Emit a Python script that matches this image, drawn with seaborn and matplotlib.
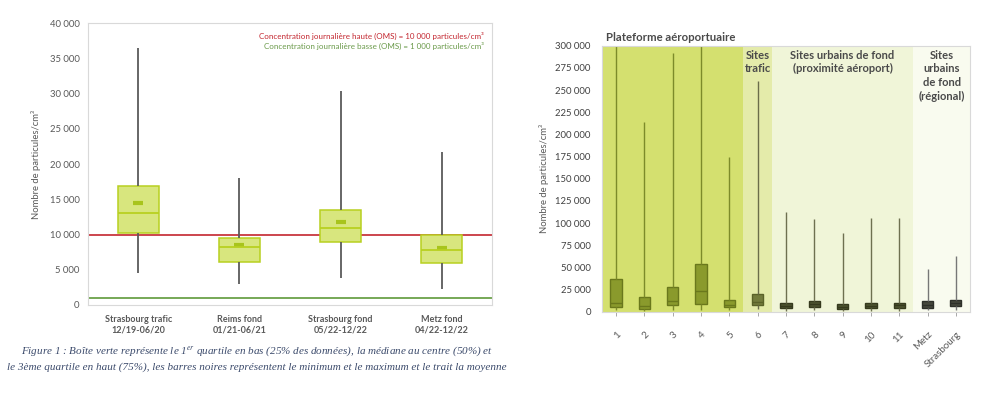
import numpy as np
import pandas as pd
import matplotlib
matplotlib.use("Agg")
import matplotlib.pyplot as plt
import seaborn as sns
from matplotlib.ticker import FuncFormatter, MultipleLocator

# ---------------- Left chart data ----------------
left_cats = ["Strasbourg trafic\n12/19-06/20", "Reims fond\n01/21-06/21",
             "Strasbourg fond\n05/22-12/22", "Metz fond\n04/22-12/22"]
left_min = [4500, 3000, 3900, 2300]
left_q1 = [10250, 6150, 9000, 5900]
left_med = [13050, 8250, 10950, 7800]
left_q3 = [16950, 9550, 13500, 9900]
left_max = [36400, 18000, 30300, 21700]
left_mean = [14450, 8450, 11800, 8150]
seuil_haut = 10000
seuil_bas = 1000
legend_haut = "Concentration journalière haute (OMS) = 10 000 particules/cm³"
legend_bas = "Concentration journalière basse (OMS) = 1 000 particules/cm³"

# ---------------- Right chart data ----------------
right_cats = ["1", "2", "3", "4", "5", "6", "7", "8", "9", "10", "11", "Metz", "Strasbourg"]
right_groups = (["Plateforme aéroportuaire"] * 5 + ["Sites\ntrafic"]
                + ["Sites urbains de fond\n(proximité aéroport)"] * 5
                + ["Sites\nurbains\nde fond\n(régional)"] * 2)
right_min = [1500, 1000, 2000, 1500, 1500, 2500, 1000, 1500, 800, 1000, 1000, 1500, 2000]
right_q1 = [5000, 3400, 7500, 8300, 5000, 7500, 4200, 5300, 2700, 3800, 4200, 4200, 6400]
right_med = [9500, 6400, 12000, 23300, 7500, 11300, 6800, 8300, 5600, 6800, 7200, 7900, 9500]
right_q3 = [37000, 16600, 27500, 53800, 12800, 20000, 10200, 11700, 8300, 10200, 10200, 11700, 12800]
right_max = [320000, 213500, 291700, 320000, 174800, 260000, 112700, 104200, 88700,
             105300, 106000, 48500, 62800]

caption = ("Figure 1 : Boîte verte représente le 1$^{er}$ quartile en bas (25% des données), "
           "la médiane au centre (50%) et\nle 3ème quartile en haut (75%), les barres noires "
           "représentent le minimum et le maximum et le trait la moyenne")

# ---------------- Styling ----------------
sns.set_theme(style="white")
plt.rcParams["font.family"] = ["Lato", "DejaVu Sans"]
plt.rcParams["mathtext.fontset"] = "stix"
txt_gray = "#595959"
thousands = FuncFormatter(lambda v, p: f"{int(round(v)):,}".replace(",", " "))


def long_df(cats, mins, q1s, meds, q3s, maxs, groups=None):
    rows = []
    for i, c in enumerate(cats):
        for v in (mins[i], q1s[i], meds[i], q3s[i], maxs[i]):
            rows.append({"cat": c, "val": v, "group": groups[i] if groups else ""})
    return pd.DataFrame(rows)


fig = plt.figure(figsize=(9.93, 3.96), dpi=100)
fig.patch.set_facecolor("white")

# ================= LEFT =================
axL = fig.add_axes([0.0886, 0.2298, 0.4069, 0.712])
dfL = long_df(left_cats, left_min, left_q1, left_med, left_q3, left_max)
sns.boxplot(data=dfL, x="cat", y="val", order=left_cats, ax=axL, width=0.4,
            whis=(0, 100), showcaps=False, color="#d8e67e", saturation=1,
            linecolor="#b8d020", linewidth=1.1,
            whiskerprops={"color": "#5b5b5b", "linewidth": 1.3},
            medianprops={"color": "#b8d020", "linewidth": 1.3})
sns.pointplot(x=left_cats, y=left_mean, order=left_cats, ax=axL, linestyle="none",
              marker="_", markersize=7, markeredgewidth=3, color="#a8c41c", errorbar=None)
axL.axhline(seuil_haut, color="#c3262f", lw=1.2, zorder=1)
axL.axhline(seuil_bas, color="#5f9a3a", lw=1.2, zorder=1)
axL.set_ylim(0, 40000)
axL.set_xlim(-0.5, 3.5)
axL.yaxis.set_major_locator(MultipleLocator(5000))
axL.yaxis.set_major_formatter(thousands)
axL.set_xlabel("")
axL.set_ylabel("Nombre de particules/cm³", fontsize=6.8, color=txt_gray, labelpad=6)
axL.tick_params(axis="y", length=0, labelsize=6.8, labelcolor=txt_gray, pad=6)
axL.set_xticks(range(len(left_cats)))
axL.set_xticklabels(left_cats, fontweight="bold", fontsize=6.5, color=txt_gray)
axL.tick_params(axis="x", length=0, pad=7)
for s in axL.spines.values():
    s.set_color("#d9d9d9")
    s.set_linewidth(0.8)
axL.text(0.98, 0.955, legend_haut, transform=axL.transAxes, ha="right", va="center",
         fontsize=5.8, color="#c3262f")
axL.text(0.98, 0.918, legend_bas, transform=axL.transAxes, ha="right", va="center",
         fontsize=5.8, color="#6a9a4a")

# ================= RIGHT =================
axR = fig.add_axes([0.6062, 0.2129, 0.3706, 0.6717])
dfR = long_df(right_cats, right_min, right_q1, right_med, right_q3, right_max, right_groups)
group_order = ["Plateforme aéroportuaire", "Sites\ntrafic",
               "Sites urbains de fond\n(proximité aéroport)", "Sites\nurbains\nde fond\n(régional)"]
styles = {
    group_order[0]: ("#8a9a2c", "#6a781c", "#7d8b2a"),
    group_order[1]: ("#737c3c", "#5a6228", "#6b6d4a"),
    group_order[2]: ("#4d5330", "#363a1e", "#6e7050"),
    group_order[3]: ("#45473c", "#2e302a", "#777777"),
}
bands = {group_order[0]: "#d4e06f", group_order[1]: "#e4ebaa",
         group_order[2]: "#f0f5d8", group_order[3]: "#f9fbef"}
for g in group_order:
    face, edge, wc = styles[g]
    sub = dfR[dfR["group"] == g]
    sns.boxplot(data=sub, x="cat", y="val", order=right_cats, ax=axR, width=0.4,
                whis=(0, 100), showcaps=False, color=face, saturation=1,
                linecolor=edge, linewidth=1.0,
                whiskerprops={"color": wc, "linewidth": 1.0},
                medianprops={"color": edge, "linewidth": 1.0})

# background bands per group (category boundaries)
idx = np.arange(len(right_cats))
for g in group_order:
    pos = [i for i in idx if right_groups[i] == g]
    axR.axvspan(min(pos) - 0.5, max(pos) + 0.5, color=bands[g], zorder=0, lw=0)
    if g != group_order[0]:
        axR.text((min(pos) + max(pos)) / 2, 0.985, g, transform=axR.get_xaxis_transform(),
                 ha="center", va="top", fontsize=8, fontweight="bold", color="#4a4a4a",
                 linespacing=1.3)
axR.text(0.012, 1.03, group_order[0], transform=axR.transAxes, ha="left", va="center",
         fontsize=8.2, fontweight="bold", color="#4a4a4a")

axR.set_ylim(0, 300000)
axR.set_xlim(-0.5, len(right_cats) - 0.5)
axR.yaxis.set_major_locator(MultipleLocator(25000))
axR.yaxis.set_major_formatter(thousands)
axR.set_xlabel("")
axR.set_ylabel("Nombre de particules/cm³", fontsize=6.8, color=txt_gray, labelpad=5)
axR.tick_params(axis="y", length=0, labelsize=6.8, labelcolor="#404040", pad=8)
axR.tick_params(axis="x", length=3, width=0.6, color="#9a9a9a", labelsize=7,
                labelcolor=txt_gray, pad=10, bottom=True)
for lab in axR.get_xticklabels():
    lab.set_rotation(45)
    lab.set_ha("right")
    lab.set_rotation_mode("anchor")
for s in axR.spines.values():
    s.set_color("#d9d9d9")
    s.set_linewidth(0.8)

# ================= Caption =================
fig.text(0.259, 0.095, caption, ha="center", va="center", fontsize=8.0,
         family=["Liberation Serif", "DejaVu Serif"], style="italic", color="#3b4a6b",
         linespacing=1.55)

fig.savefig("out.png", dpi=100, facecolor="white")
